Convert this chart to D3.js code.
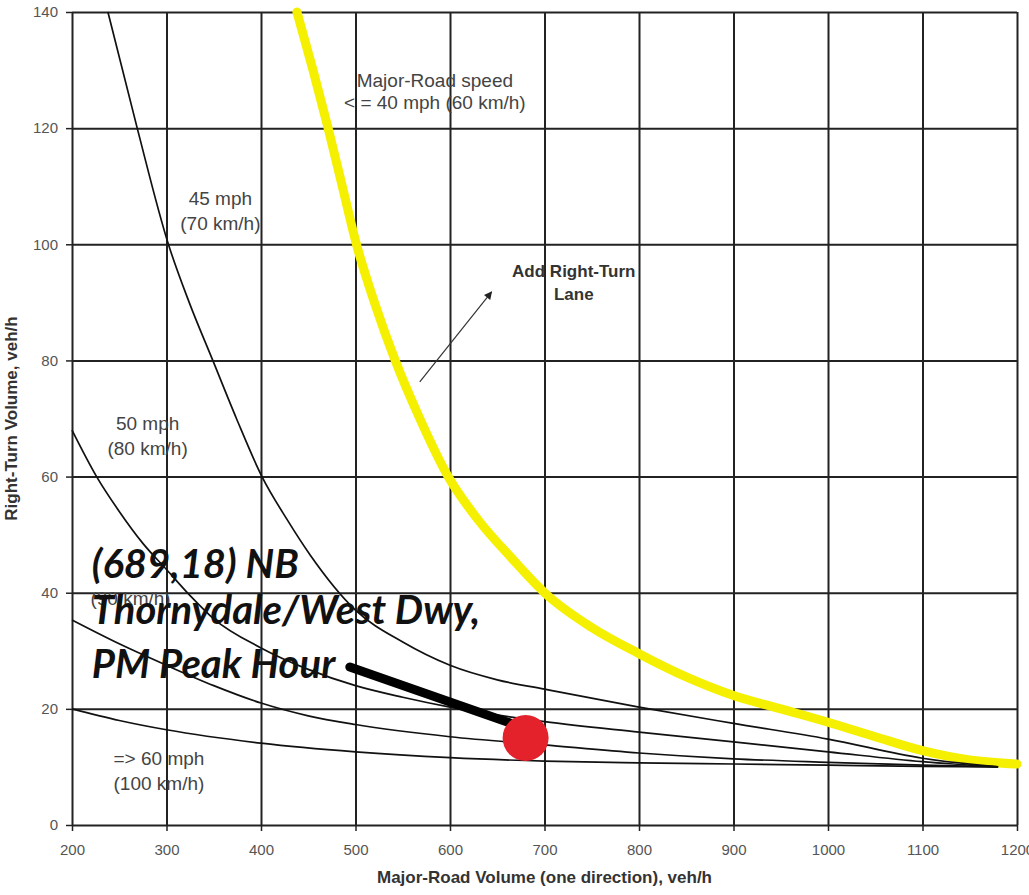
<!DOCTYPE html>
<html lang="en">
<head>
<meta charset="UTF-8">
<script src="https://d3js.org/d3.v7.min.js"></script>
<title>Right-Turn Lane Guideline</title>
<style>
    body { margin: 0; background: #fff; }
    .tick text { font-family: "Liberation Sans", Arial, sans-serif; font-size: 15px; fill: #555; }
    .note { font-family: "Liberation Sans", Arial, sans-serif; font-size: 19px; fill: #444; text-anchor: middle; }
    .note.bold { font-weight: bold; fill: #333; font-size: 17px; }
    .title { font-family: "Liberation Sans", Arial, sans-serif; font-size: 17px; font-weight: bold; fill: #333; text-anchor: middle; }
    .callout { font-family: Lato, "Open Sans", sans-serif; font-size: 40px; font-weight: bold; font-style: italic; fill: #111; }
</style>
</head>
<body>
<script>
    // curves: [major-road volume, right-turn volume]
    var speed40 = [[438,140],[455,130],[471,120],[486,110],[501,100],[520,90],[542,80],[568,70],[598,60],[630,52.5],[665,46],[700,40],[750,34],[800,29.5],[850,25.5],[900,22.3],[950,20],[1000,17.7],[1050,15.2],[1100,12.8],[1150,11.2],[1200,10.5]];
    var speed45 = [[238,140],[269,120],[302,100],[324,90],[349,80],[374,70],[401,60],[428,52.5],[452,46.5],[500,37],[550,31.5],[600,27.5],[650,25],[700,23.4],[800,20.3],[900,17.5],[1000,14.8],[1100,11.5],[1180,10]];
    var speed50 = [[200,68],[226,60],[250,54],[275,48.5],[300,44],[325,39.5],[350,35.5],[400,30.5],[450,26.8],[500,24],[550,22],[600,20.3],[700,17.8],[800,16],[900,14.3],[1000,12.6],[1100,10.9],[1180,10]];
    var speed55 = [[200,35.3],[250,31.2],[300,27.5],[350,24],[400,21],[450,18.8],[500,17.3],[600,15.2],[700,13.8],[800,12.4],[900,11.4],[1000,10.8],[1100,10.3],[1180,10]];
    var speed60 = [[200,20],[250,18],[300,16.4],[400,14.1],[500,12.6],[600,11.6],[700,11],[800,10.7],[900,10.5],[1000,10.3],[1100,10.1],[1180,10]];

    var xTicks = [200,300,400,500,600,700,800,900,1000,1100,1200];
    var yTicks = [0,20,40,60,80,100,120,140];

    var studyPoint = [680, 15];
    var pointerLine = [[494,27.2],[663,17.6]];
    var laneArrow = [[568,76.3],[644,91.8]];
    var studyLabel = ["(689,18) NB", "Thornydale/West Dwy,", "PM Peak Hour"];

    var label40 = ["Major-Road speed", "< = 40 mph (60 km/h)"];
    var label45 = ["45 mph", "(70 km/h)"];
    var label50 = ["50 mph", "(80 km/h)"];
    var label55 = ["(90 km/h)"];
    var label60 = ["=> 60 mph", "(100 km/h)"];
    var laneLabel = ["Add Right-Turn", "Lane"];

    var canvasWidth = 1029, canvasHeight = 895;
    var margin = {top: 12, right: 12, bottom: 70, left: 72};
    var width = canvasWidth - margin.left - margin.right;
    var height = canvasHeight - margin.top - margin.bottom;

    var svg = d3.select("body").append("svg")
        .attr("width", canvasWidth)
        .attr("height", canvasHeight);

    var defs = svg.append("defs");
    defs.append("marker").attr("id", "head")
        .attr("viewBox", "0 0 10 10").attr("refX", 9).attr("refY", 5)
        .attr("markerWidth", 10).attr("markerHeight", 8).attr("markerUnits", "userSpaceOnUse")
        .attr("orient", "auto")
        .append("path").attr("d", "M0,0L10,5L0,10z").attr("fill", "#222");

    var g = svg.append("g").attr("transform", "translate(" + margin.left + "," + margin.top + ")");

    var x = d3.scaleLinear().domain([200, 1200]).range([0, width]);
    var y = d3.scaleLinear().domain([0, 140]).range([height, 0]);

    // grid
    g.append("g").attr("class", "grid")
        .call(d3.axisLeft(y).tickValues(yTicks).tickSize(-width).tickFormat(""))
        .call(s => s.select(".domain").remove());
    g.append("g").attr("class", "grid")
        .attr("transform", "translate(0," + height + ")")
        .call(d3.axisBottom(x).tickValues(xTicks).tickSize(-height).tickFormat(""))
        .call(s => s.select(".domain").remove());
    g.selectAll(".grid line").attr("stroke", "#222").attr("stroke-width", 2);

    // axes
    g.append("g")
        .call(d3.axisLeft(y).tickValues(yTicks).tickSize(6).tickPadding(8).tickFormat(d3.format("d")))
        .call(s => s.select(".domain").remove())
        .selectAll("line").attr("stroke", "#222").attr("stroke-width", 1.5);
    g.append("g")
        .attr("transform", "translate(0," + height + ")")
        .call(d3.axisBottom(x).tickValues(xTicks).tickSize(6).tickPadding(13).tickFormat(d3.format("d")))
        .call(s => s.select(".domain").remove())
        .selectAll("line").attr("stroke", "#222").attr("stroke-width", 1.5);

    var line = d3.line()
        .x(d => x(d[0]))
        .y(d => y(d[1]))
        .curve(d3.curveMonotoneX);

    g.append("path").datum(speed40)
        .attr("d", line)
        .attr("fill", "none")
        .attr("stroke", "#f4f000")
        .attr("stroke-width", 9)
        .attr("stroke-linecap", "round")
        .attr("stroke-linejoin", "round");

    [speed45, speed50, speed55, speed60].forEach(function (c) {
        g.append("path").datum(c)
            .attr("d", line)
            .attr("fill", "none")
            .attr("stroke", "#111")
            .attr("stroke-width", 1.7);
    });

    function note(lines, vx, vy, gap, cls) {
        lines.forEach(function (t, i) {
            g.append("text").attr("class", cls)
                .attr("x", x(vx))
                .attr("y", y(vy) + i * gap)
                .text(t);
        });
    }
    note(label40, 584, 127.1, 22, "note");
    note(label45, 357, 106.8, 25, "note");
    note(label50, 280, 68, 25, "note");
    note(label55, 262, 37.9, 25, "note");
    note(label60, 292, 10.3, 25, "note");
    note(laneLabel, 731, 94.4, 23, "note bold");

    g.append("path").datum(laneArrow)
        .attr("d", d3.line().x(d => x(d[0])).y(d => y(d[1])))
        .attr("stroke", "#333")
        .attr("stroke-width", 1.2)
        .attr("marker-end", "url(#head)");

    // callout
    var baselines = [42.5, 34.6, 25.3];
    studyLabel.forEach(function (t, i) {
        g.append("text").attr("class", "callout")
            .attr("x", x(221))
            .attr("y", y(baselines[i]))
            .text(t);
    });

    g.append("path").datum(pointerLine)
        .attr("d", d3.line().x(d => x(d[0])).y(d => y(d[1])))
        .attr("stroke", "#000")
        .attr("stroke-width", 9)
        .attr("stroke-linecap", "round");

    g.append("circle")
        .attr("cx", x(studyPoint[0]))
        .attr("cy", y(studyPoint[1]))
        .attr("r", 23)
        .attr("fill", "#e3222b");

    // axis titles
    g.append("text").attr("class", "title")
        .attr("x", width / 2)
        .attr("y", height + 58)
        .text("Major-Road Volume (one direction), veh/h");
    g.append("text").attr("class", "title")
        .attr("transform", "rotate(-90)")
        .attr("x", -height / 2)
        .attr("y", -55)
        .text("Right-Turn Volume, veh/h");
</script>
</body>
</html>
